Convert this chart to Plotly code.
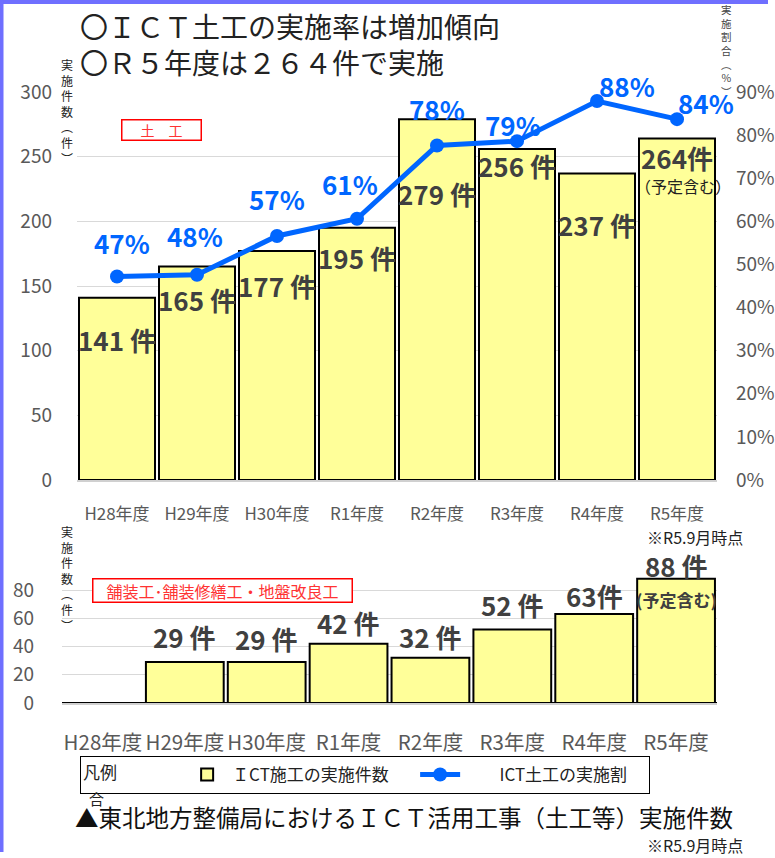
import plotly.graph_objects as go

# ---------------- data ----------------
years = ["H28年度", "H29年度", "H30年度", "R1年度", "R2年度", "R3年度", "R4年度", "R5年度"]
earthwork_counts = [141, 165, 177, 195, 279, 256, 237, 264]
earthwork_count_seps = [" ", " ", " ", " ", " ", " ", " ", ""]
earthwork_rate = [47.2, 47.6, 56.6, 60.6, 77.6, 78.6, 87.9, 83.7]
pavement_counts = [0, 29, 29, 42, 32, 52, 63, 88]
pavement_count_seps = [" ", " ", " ", " ", " ", " ", "", " "]
top_yticks = [0, 50, 100, 150, 200, 250, 300]
right_yticks = [0, 10, 20, 30, 40, 50, 60, 70, 80, 90]
bottom_yticks = [0, 20, 40, 60, 80]

# ---------------- style / layout helpers ----------------
W, H = 775, 858
JP = "Noto Sans CJK JP"
BAR_FILL = "#FFFF99"
BLUE = "#0066FF"
LABEL_GREY = "#404040"
TICK_GREY = "#595959"
NB = "&nbsp;"


def px(v):
    return v / W


def py(v):
    return 1 - v / H


# label offsets (pixels) relative to the data point
count_label_yshift = [-42, -33, -34, -30, -74, -17, -51, -19]
rate_label_shift = [(5, 34), (-2, 39), (0, 37), (-7, 35), (0, 37), (-4, 17), (30, 16), (29, 17)]
pave_label_yshift = [None, 26, 24, 21, 21, 25, 19, 13]

fig = go.Figure()

fig.add_trace(go.Bar(
    x=years, y=earthwork_counts, xaxis="x", yaxis="y",
    name="ＩCT施工の実施件数",
    marker=dict(color=BAR_FILL, line=dict(color="black", width=2)),
))
fig.add_trace(go.Scatter(
    x=years, y=earthwork_rate, xaxis="x", yaxis="y2",
    name=NB * 9 + "ICT土工の実施割",
    mode="lines+markers",
    line=dict(color=BLUE, width=5),
    marker=dict(color=BLUE, size=14),
    cliponaxis=False,
))
fig.add_trace(go.Bar(
    x=years, y=pavement_counts, xaxis="x2", yaxis="y3",
    name="舗装工", showlegend=False,
    marker=dict(color=BAR_FILL, line=dict(color="black", width=2)),
))

ann = []

# count labels (top)
for i, (yr, v, sep) in enumerate(zip(years, earthwork_counts, earthwork_count_seps)):
    ann.append(dict(xref="x", yref="y", x=yr, y=v, yshift=count_label_yshift[i],
                    text=f"{v}{sep}件", showarrow=False,
                    font=dict(family=JP, size=26, color=LABEL_GREY, weight="bold")))
ann.append(dict(xref="x", yref="y", x=years[-1], y=earthwork_counts[-1], yshift=-47, xshift=6,
                text="（予定含む）", showarrow=False,
                font=dict(family=JP, size=16, color="#222222")))

# rate labels
for i, (yr, v) in enumerate(zip(years, earthwork_rate)):
    xs, ys = rate_label_shift[i]
    ann.append(dict(xref="x", yref="y2", x=yr, y=v, xshift=xs, yshift=ys,
                    text=f"{v:.0f}%", showarrow=False,
                    font=dict(family=JP, size=26, color=BLUE, weight="bold")))

# pavement labels
for i, (yr, v, sep) in enumerate(zip(years, pavement_counts, pavement_count_seps)):
    if pave_label_yshift[i] is None:
        continue
    ann.append(dict(xref="x2", yref="y3", x=yr, y=v, yshift=pave_label_yshift[i],
                    text=f"{v}{sep}件", showarrow=False,
                    font=dict(family=JP, size=26, color=LABEL_GREY, weight="bold")))
ann.append(dict(xref="x2", yref="y3", x=years[-1], y=pavement_counts[-1], yshift=-21,
                text="(予定含む)", showarrow=False,
                font=dict(family=JP, size=17, color=LABEL_GREY, weight="bold")))

# titles
ann.append(dict(xref="paper", yref="paper", x=px(78), y=py(26), xanchor="left", yanchor="middle",
                text="〇ＩＣＴ土工の実施率は増加傾向", showarrow=False,
                font=dict(family=JP, size=28, color="#222222")))
ann.append(dict(xref="paper", yref="paper", x=px(78), y=py(62), xanchor="left", yanchor="middle",
                text="〇Ｒ５年度は２６４件で実施", showarrow=False,
                font=dict(family=JP, size=28, color="#222222")))

# axis titles (vertical stacked)
ann.append(dict(xref="paper", yref="paper", x=px(67), y=py(111), xanchor="center", yanchor="middle",
                text="<br>".join("実施件数︵件︶"), showarrow=False,
                font=dict(family=JP, size=12, color="#222222")))
ann.append(dict(xref="paper", yref="paper", x=px(67), y=py(578), xanchor="center", yanchor="middle",
                text="<br>".join("実施件数︵件︶"), showarrow=False,
                font=dict(family=JP, size=12, color="#222222")))
ann.append(dict(xref="paper", yref="paper", x=px(726), y=py(50), xanchor="center", yanchor="middle",
                text="<br>".join("実施割合︵%︶"), showarrow=False,
                font=dict(family=JP, size=10.5, color="#444444")))

# red boxes
ann.append(dict(xref="paper", yref="paper", x=px(161), y=py(130), xanchor="center", yanchor="middle",
                text="土　工", showarrow=False, bordercolor="#FF0000", borderwidth=1.5,
                bgcolor="white", width=76, height=17, borderpad=1,
                font=dict(family=JP, size=14, color="#FF3333")))
ann.append(dict(xref="paper", yref="paper", x=px(222), y=py(590), xanchor="center", yanchor="middle",
                text="舗装工･舗装修繕工・地盤改良工", showarrow=False, bordercolor="#FF0000", borderwidth=1.5,
                bgcolor="white", width=256, height=20, borderpad=1,
                font=dict(family=JP, size=16, color="#FF3333")))

# notes
ann.append(dict(xref="paper", yref="paper", x=px(745), y=py(537), xanchor="right", yanchor="middle",
                text="※R5.9月時点", showarrow=False,
                font=dict(family=JP, size=16, color="#222222")))
ann.append(dict(xref="paper", yref="paper", x=px(745), y=py(845), xanchor="right", yanchor="middle",
                text="※R5.9月時点", showarrow=False,
                font=dict(family=JP, size=16, color="#222222")))
ann.append(dict(xref="paper", yref="paper", x=px(404), y=py(817), xanchor="center", yanchor="middle",
                text="▲東北地方整備局におけるＩＣＴ活用工事（土工等）実施件数", showarrow=False,
                font=dict(family=JP, size=23.5, color="#111111")))
ann.append(dict(xref="paper", yref="paper", x=px(96), y=py(798), xanchor="center", yanchor="middle",
                text="合", showarrow=False,
                font=dict(family=JP, size=15, color="#222222")))

fig.update_layout(
    width=W, height=H,
    margin=dict(l=0, r=0, t=0, b=0, autoexpand=False),
    paper_bgcolor="white", plot_bgcolor="rgba(0,0,0,0)",
    bargap=0.05,
    font=dict(family=JP),
    xaxis=dict(domain=[px(77), px(717)], anchor="y", range=[-0.5, 7.5], autorange=False,
               showline=True, linecolor="#D0D0D0", linewidth=2,
               tickfont=dict(family=JP, size=17, color=TICK_GREY), ticks="", ticklabelstandoff=18,
               showgrid=False, zeroline=False, automargin=False),
    yaxis=dict(domain=[py(480), py(92)], anchor="x", range=[0, 300], tickvals=top_yticks,
               showgrid=True, gridcolor="#D9D9D9", gridwidth=1, zeroline=False, automargin=False,
               tickfont=dict(family=JP, size=19, color=TICK_GREY), ticks="", ticklabelstandoff=24),
    yaxis2=dict(overlaying="y", anchor="x", side="right", range=[0, 90], tickvals=right_yticks,
                ticktext=[f"{t}%" for t in right_yticks], showgrid=False, zeroline=False,
                automargin=False,
                tickfont=dict(family=JP, size=19, color=TICK_GREY), ticks="", ticklabelstandoff=18),
    xaxis2=dict(domain=[px(62), px(717)], anchor="y3", range=[-0.5, 7.5], autorange=False,
                showline=True, linecolor="#D0D0D0", linewidth=2,
                tickfont=dict(family=JP, size=20.5, color=TICK_GREY), ticks="", ticklabelstandoff=20,
                showgrid=False, zeroline=False, automargin=False),
    yaxis3=dict(domain=[py(703), py(576)], anchor="x2", range=[0, 90], tickvals=bottom_yticks,
                showgrid=True, gridcolor="#D9D9D9", gridwidth=1, automargin=False,
                zeroline=True, zerolinecolor="black", zerolinewidth=2,
                tickfont=dict(family=JP, size=19, color=TICK_GREY), ticks="", ticklabelstandoff=27),
    legend=dict(orientation="h", x=px(80), y=py(756), xanchor="left", yanchor="top",
                bordercolor="black", borderwidth=1, bgcolor="white",
                font=dict(family=JP, size=17, color="#222222"),
                title=dict(text="凡例" + NB * 15, side="left",
                           font=dict(family=JP, size=17, color="#222222")),
                itemwidth=40, entrywidth=178, entrywidthmode="pixels"),
    annotations=ann,
    shapes=[
        dict(type="line", xref="paper", yref="paper", x0=0, x1=px(768), y0=py(2), y1=py(2),
             line=dict(color="#6F6FFF", width=4)),
        dict(type="line", xref="paper", yref="paper", x0=px(1.5), x1=px(1.5), y0=py(0), y1=py(852),
             line=dict(color="#6F6FFF", width=4)),
    ],
)

fig.write_html("out.html")
